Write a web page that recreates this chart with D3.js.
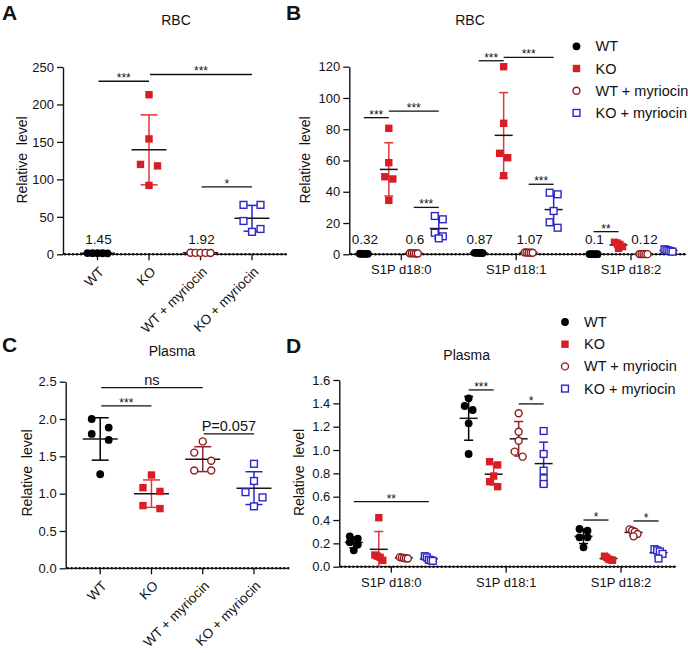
<!DOCTYPE html>
<html><head><meta charset="utf-8">
<script src="https://cdn.jsdelivr.net/npm/d3@7"></script>
<style>
body{margin:0;background:#fff}
svg{display:block}
text{font-family:Arial,"Liberation Sans",Helvetica,sans-serif;fill:#111}
</style>
</head><body>
<svg id="c" width="688" height="653"></svg>
<script>
// ---------- DATA ----------
const groups = ["WT", "KO", "WT + myriocin", "KO + myriocin"];
const lipids = ["S1P d18:0", "S1P d18:1", "S1P d18:2"];

// Panel A: RBC total S1P
const rbcWT    = [1.3, 1.4, 1.45, 1.5, 1.6];
const rbcKO    = [213, 154, 120, 118, 92];
const rbcWTmyr = [1.8, 1.9, 1.92, 1.95, 2.0];
const rbcKOmyr = [66, 66, 44.5, 33.8, 30];
const rbcLabels = ["1.45", "", "1.92", ""];
const rbcTicks = [0, 50, 100, 150, 200, 250];
const rbcSig = [["WT", "KO", 231, "***"], ["KO", "KO + myriocin", 240, "***"], ["WT + myriocin", "KO + myriocin", 90, "*"]];

// Panel B: RBC S1P species (one row per lipid)
const rbcSpWT    = [[0.30, 0.31, 0.32, 0.33, 0.34], [0.80, 0.85, 0.87, 0.90, 0.93], [0.08, 0.09, 0.10, 0.11, 0.12]];
const rbcSpKO    = [[80.6, 58.6, 49.6, 48.2, 34.5], [120, 83.8, 64.6, 61.8, 50.3], [7.7, 7.2, 6.3, 4.9, 3.8]];
const rbcSpWTmyr = [[0.50, 0.55, 0.60, 0.65, 0.70], [0.95, 1.00, 1.07, 1.12, 1.20], [0.10, 0.11, 0.12, 0.13, 0.14]];
const rbcSpKOmyr = [[24.5, 22.4, 13.8, 11.5, 10.2], [39.4, 38.4, 27.7, 20.5, 17.0], [3.2, 2.8, 2.4, 2.0, 1.7]];
const rbcSpLabels = [["0.32", "", "0.6", ""], ["0.87", "", "1.07", ""], ["0.1", "", "0.12", ""]];
const rbcSpTicks = [0, 20, 40, 60, 80, 100, 120];
const rbcSpSig = [
  [0, "WT", "KO", 87.4, "***"], [0, "KO", "KO + myriocin", 91.6, "***"], [0, "WT + myriocin", "KO + myriocin", 30, "***"],
  [1, "WT", "KO", 123.8, "***"], [1, "KO", "KO + myriocin", 126, "***"], [1, "WT + myriocin", "KO + myriocin", 44.8, "***"],
  [2, "WT", "KO", 14.5, "**"]
];

// Panel C: Plasma total S1P
const plWT    = [2.0, 1.885, 1.80, 1.72, 1.26];
const plKO    = [1.25, 1.08, 1.03, 0.84, 0.80];
const plWTmyr = [1.70, 1.55, 1.44, 1.31, 1.31];
const plKOmyr = [1.40, 1.17, 1.02, 0.95, 0.83];
const plTicks = [0, 0.5, 1.0, 1.5, 2.0, 2.5];
const plSig = [["WT", "WT + myriocin", 2.42, "ns"], ["WT", "KO", 2.175, "***"], ["WT + myriocin", "KO + myriocin", 1.80, "P=0.057"]];

// Panel D: Plasma S1P species
const plSpWT    = [[0.26, 0.24, 0.21, 0.19, 0.14], [1.443, 1.377, 1.343, 1.229, 0.966], [0.323, 0.309, 0.252, 0.252, 0.166]];
const plSpKO    = [[0.42, 0.10, 0.09, 0.08, 0.055], [0.90, 0.872, 0.777, 0.729, 0.686], [0.09, 0.08, 0.065, 0.06, 0.055]];
const plSpWTmyr = [[0.082, 0.078, 0.075, 0.072, 0.070], [1.315, 1.157, 1.08, 0.986, 0.943], [0.32, 0.31, 0.30, 0.28, 0.26]];
const plSpKOmyr = [[0.09, 0.08, 0.06, 0.055, 0.05], [1.163, 0.966, 0.823, 0.757, 0.709], [0.15, 0.14, 0.13, 0.11, 0.07]];
const plSpTicks = [0, 0.2, 0.4, 0.6, 0.8, 1.0, 1.2, 1.4, 1.6];
const plSpSig = [
  [0, "WT", "KO + myriocin", 0.557, "**"],
  [1, "WT", "KO", 1.515, "***"], [1, "WT + myriocin", "KO + myriocin", 1.395, "*"],
  [2, "WT", "KO", 0.40, "*"], [2, "WT + myriocin", "KO + myriocin", 0.392, "*"]
];

// ---------- STYLE ----------
const colors = {"WT": "#000000", "KO": "#d81e24", "WT + myriocin": "#8c1c1c", "KO + myriocin": "#2b25c9"};
const errColors = {"WT": "#000000", "KO": "#e0363c", "WT + myriocin": "#8c2626", "KO + myriocin": "#2b25c9"};

const svg = d3.select("#c");

function marker(g, grp, x, y) {
  if (grp === "WT") {
    g.append("circle").attr("cx", x).attr("cy", y).attr("r", 3.9).attr("fill", colors[grp]);
  } else if (grp === "KO") {
    g.append("rect").attr("x", x - 3.7).attr("y", y - 3.7).attr("width", 7.4).attr("height", 7.4).attr("fill", colors[grp]);
  } else if (grp === "WT + myriocin") {
    g.append("circle").attr("cx", x).attr("cy", y).attr("r", 3.5).attr("fill", "#fff")
      .attr("stroke", colors[grp]).attr("stroke-width", 1.4);
  } else {
    g.append("rect").attr("x", x - 3.4).attr("y", y - 3.4).attr("width", 6.8).attr("height", 6.8).attr("fill", "#fff")
      .attr("stroke", colors[grp]).attr("stroke-width", 1.4);
  }
}

// simple GraphPad-like scatter layout: points close in y share a row, spread horizontally
function swarm(vals, y, p) {
  const pts = vals.map(v => ({v, y: y(v)})).sort((a, b) => a.y - b.y);
  const rows = [];
  let cur = null;
  pts.forEach(pt => {
    if (cur && pt.y - cur[0].y <= p.rowTol) cur.push(pt);
    else { cur = [pt]; rows.push(cur); }
  });
  rows.forEach(r => {
    const n = r.length;
    const sp = n > 1 ? Math.min(p.maxSp, p.maxSpan / (n - 1)) : 0;
    r.forEach((pt, i) => pt.dx = (i - (n - 1) / 2) * sp);
  });
  return pts;
}

function drawGroup(g, vals, grp, cx, y, p) {
  const m = d3.mean(vals), sd = d3.deviation(vals);
  const col = errColors[grp];
  const lo = Math.max(0, m - sd), hi = m + sd;
  g.append("line").attr("x1", cx).attr("x2", cx).attr("y1", y(lo)).attr("y2", y(hi))
    .attr("stroke", col).attr("stroke-width", 1.5);
  const caps = m - sd > 0 ? [lo, hi] : [hi];
  caps.forEach(v => g.append("line").attr("x1", cx - p.cap).attr("x2", cx + p.cap)
    .attr("y1", y(v)).attr("y2", y(v)).attr("stroke", col).attr("stroke-width", 1.5));
  g.append("line").attr("x1", cx - p.mean).attr("x2", cx + p.mean).attr("y1", y(m)).attr("y2", y(m))
    .attr("stroke", "#161616").attr("stroke-width", 1.5);
  swarm(vals, y, p).forEach(pt => marker(g, grp, cx + pt.dx, pt.y));
}

function frame(cfg, ticks, fmt, title, letter, labelPos) {
  const g = svg.append("g");
  const y = d3.scaleLinear().domain([0, ticks[ticks.length - 1]]).range([cfg.y0, cfg.yTop]);
  const ya = g.append("g").attr("transform", `translate(${cfg.x0},0)`)
    .call(d3.axisLeft(y).tickValues(ticks).tickFormat(fmt).tickSize(6).tickSizeOuter(0).tickPadding(3));
  ya.selectAll("path.domain").attr("stroke", "#111").attr("stroke-width", 1.4);
  ya.selectAll(".tick line").attr("stroke", "#111").attr("stroke-width", 1.3);
  ya.selectAll("text").style("font-size", "13px").attr("fill", "#222").style("font-family", 'Arial,"Liberation Sans",sans-serif');
  // x axis line with dotted pattern
  g.append("line").attr("x1", cfg.x0).attr("x2", cfg.x1).attr("y1", cfg.y0).attr("y2", cfg.y0)
    .attr("stroke", "#111").attr("stroke-width", 1.3);
  g.append("line").attr("x1", cfg.x0 + 2).attr("x2", cfg.x1).attr("y1", cfg.y0).attr("y2", cfg.y0)
    .attr("stroke", "#111").attr("stroke-width", 2.6).attr("stroke-linecap", "round").attr("stroke-dasharray", "0.01 4");
  // title, letter, y label
  g.append("text").attr("x", cfg.titleX).attr("y", cfg.titleY).attr("text-anchor", "middle")
    .style("font-size", "14px").text(title);
  g.append("text").attr("x", cfg.letterX).attr("y", cfg.letterY).style("font-size", "21px")
    .style("font-weight", "bold").attr("fill", "#000").text(letter);
  g.append("text").attr("transform", `translate(${labelPos[0]},${labelPos[1]}) rotate(-90)`)
    .attr("text-anchor", "middle").attr("dy", "0.35em").style("font-size", "14px")
    .style("white-space", "pre").text("Relative  level");
  return {g, y};
}

function sigBar(g, xa, xb, yy, txt) {
  g.append("line").attr("x1", xa).attr("x2", xb).attr("y1", yy).attr("y2", yy)
    .attr("stroke", "#111").attr("stroke-width", 1.3);
  const big = /[a-zA-Z]/.test(txt);
  g.append("text").attr("x", (xa + xb) / 2).attr("y", big ? yy - 3 : yy + 1)
    .attr("text-anchor", "middle").style("font-size", big ? "14.5px" : "12px").text(txt);
}

// ---------- simple panels (A, C) ----------
function simplePanel(cfg, series, ticks, fmt, title, letter, labelPos, sigs, valLabels) {
  const {g, y} = frame(cfg, ticks, fmt, title, letter, labelPos);
  const x = d3.scalePoint().domain(groups).range([cfg.x0 + 34.5, cfg.x1 - 35]);
  // category ticks
  groups.forEach(gr => g.append("line").attr("x1", x(gr)).attr("x2", x(gr))
    .attr("y1", cfg.y0).attr("y2", cfg.y0 + 6).attr("stroke", "#111").attr("stroke-width", 1.3));
  groups.forEach(gr => g.append("text")
    .attr("transform", `translate(${x(gr) + 4},${cfg.y0 + 15}) rotate(-45)`)
    .attr("text-anchor", "end").attr("dy", "0.35em").style("font-size", "13.5px").attr("fill", "#222").text(gr));
  const p = {rowTol: 10, maxSp: 17, maxSpan: 20, cap: 8.5, mean: 17.5};
  groups.forEach((gr, i) => drawGroup(g, series[i], gr, x(gr), y, p));
  if (valLabels) groups.forEach((gr, i) => {
    if (valLabels[i]) g.append("text").attr("x", x(gr) + 1).attr("y", cfg.y0 - 10)
      .attr("text-anchor", "middle").style("font-size", "13.5px").text(valLabels[i]);
  });
  sigs.forEach(s => sigBar(g, x(s[0]) + 1, x(s[1]), y(s[2]), s[3]));
}

// ---------- grouped panels (B, D) ----------
function groupedPanel(cfg, series, ticks, fmt, title, letter, labelPos, sigs, valLabels, legendCfg) {
  const {g, y} = frame(cfg, ticks, fmt, title, letter, labelPos);
  const x = d3.scalePoint().domain(lipids).range([cfg.x0 + 52, cfg.x1 - 55]);
  const xs = d3.scalePoint().domain(groups).range([-37.5, 37.5]);
  lipids.forEach(l => g.append("line").attr("x1", x(l)).attr("x2", x(l))
    .attr("y1", cfg.y0).attr("y2", cfg.y0 + 6).attr("stroke", "#111").attr("stroke-width", 1.3));
  lipids.forEach(l => g.append("text").attr("x", x(l)).attr("y", cfg.y0 + 20)
    .attr("text-anchor", "middle").style("font-size", "13px").attr("fill", "#222").text(l));
  const p = {rowTol: 5.5, maxSp: 8.5, maxSpan: 8, cap: 4.5, mean: 9};
  lipids.forEach((l, li) => groups.forEach((gr, gi) =>
    drawGroup(g, series[gi][li], gr, x(l) + xs(gr), y, p)));
  if (valLabels) lipids.forEach((l, li) => groups.forEach((gr, gi) => {
    const t = valLabels[li][gi];
    if (t) g.append("text").attr("x", x(l) + xs(gr) + 1).attr("y", cfg.y0 - 10)
      .attr("text-anchor", "middle").style("font-size", "13.5px").text(t);
  }));
  sigs.forEach(s => sigBar(g, x(lipids[s[0]]) + xs(s[1]), x(lipids[s[0]]) + xs(s[2]), y(s[3]), s[4]));
  // legend
  groups.forEach((gr, i) => {
    const ly = legendCfg.y + i * 22.2;
    marker(g, gr, legendCfg.x, ly);
    g.append("text").attr("x", legendCfg.x + 19).attr("y", ly + 5).style("font-size", "14.5px").text(gr);
  });
}

const fmtInt = d3.format("d");
const fmt1 = d3.format(".1f");

simplePanel({x0: 63, x1: 287, y0: 254.3, yTop: 67, titleX: 176, titleY: 25, letterX: 2, letterY: 20},
  [rbcWT, rbcKO, rbcWTmyr, rbcKOmyr], rbcTicks, fmtInt, "RBC", "A", [22, 160], rbcSig, rbcLabels);

groupedPanel({x0: 349.3, x1: 686, y0: 254.3, yTop: 66.7, titleX: 470, titleY: 25, letterX: 286, letterY: 20},
  [rbcSpWT, rbcSpKO, rbcSpWTmyr, rbcSpKOmyr], rbcSpTicks, fmtInt, "RBC", "B", [305, 160], rbcSpSig, rbcSpLabels,
  {x: 576.5, y: 46.3});

simplePanel({x0: 65.7, x1: 289, y0: 568.3, yTop: 381.7, titleX: 172, titleY: 356, letterX: 2, letterY: 352},
  [plWT, plKO, plWTmyr, plKOmyr], plTicks, fmt1, "Plasma", "C", [27.5, 473], plSig, null);

groupedPanel({x0: 339.3, x1: 676, y0: 566.7, yTop: 380, titleX: 466.7, titleY: 360, letterX: 286, letterY: 353},
  [plSpWT, plSpKO, plSpWTmyr, plSpKOmyr], plSpTicks, fmt1, "Plasma", "D", [299, 472.5], plSpSig, null,
  {x: 565, y: 322});
</script>
</body></html>
